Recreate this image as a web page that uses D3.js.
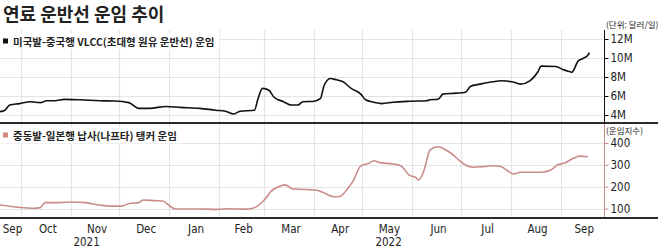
<!DOCTYPE html>
<html><head><meta charset="utf-8">
<script src="https://cdn.jsdelivr.net/npm/d3@7"></script>
<style>
html,body{margin:0;padding:0;background:#fff;}
svg{display:block;}
</style>
</head><body>
<svg id="c" width="658" height="250"></svg>
<script>
// ---- data ----
const title = "연료 운반선 운임 추이";
const legendTop = "미국발-중국행 VLCC(초대형 원유 운반선) 운임";
const legendBottom = "중동발-일본행 납사(나프타) 탱커 운임";
const unitTop = "(단위: 달러/일)";
const unitBottom = "(운임지수)";
const topTicks = [4, 6, 8, 10, 12];
const topTickLabels = ["4M", "6M", "8M", "10M", "12M"];
const bottomTicks = [100, 200, 300, 400];
const monthLabels = ["Sep","Oct","Nov","Dec","Jan","Feb","Mar","Apr","May","Jun","Jul","Aug","Sep"];
const yearLabels = ["2021", "2022"];

const vlccDates = ["2021-09-18","2021-09-21","2021-09-24","2021-09-30","2021-10-07","2021-10-13","2021-10-17","2021-10-22","2021-10-28","2021-11-07","2021-11-19","2021-11-28","2021-12-07","2021-12-13","2021-12-20","2021-12-30","2022-01-08","2022-01-20","2022-01-30","2022-02-05","2022-02-10","2022-02-14","2022-02-23","2022-02-25","2022-02-28","2022-03-04","2022-03-07","2022-03-13","2022-03-18","2022-03-22","2022-03-25","2022-04-01","2022-04-05","2022-04-07","2022-04-11","2022-04-15","2022-04-19","2022-04-24","2022-04-30","2022-05-03","2022-05-08","2022-05-13","2022-05-20","2022-05-31","2022-06-10","2022-06-12","2022-06-17","2022-06-20","2022-06-28","2022-07-04","2022-07-07","2022-07-13","2022-07-21","2022-07-26","2022-08-03","2022-08-07","2022-08-13","2022-08-18","2022-08-20","2022-08-29","2022-09-03","2022-09-07","2022-09-08","2022-09-12","2022-09-15","2022-09-18","2022-09-19"];
const vlccValues = [4.35,4.5,5.05,5.2,5.4,5.3,5.5,5.5,5.65,5.6,5.5,5.47,5.3,4.7,4.7,4.9,4.8,4.7,4.5,4.4,4.1,4.4,4.5,5.6,6.8,6.6,5.9,5.4,5.05,5.05,5.4,5.45,5.75,7.0,7.85,7.7,7.5,6.8,6.2,5.6,5.35,5.2,5.35,5.45,5.5,5.6,5.65,6.2,6.3,6.4,7.0,7.25,7.5,7.6,7.45,7.25,7.6,8.55,9.15,9.1,8.75,8.55,8.5,9.7,9.95,10.3,10.55];

const naphthaDates = ["2021-09-18","2021-09-30","2021-10-09","2021-10-13","2021-10-16","2021-10-25","2021-11-01","2021-11-10","2021-11-19","2021-11-25","2021-12-02","2021-12-08","2021-12-13","2021-12-16","2021-12-23","2021-12-28","2022-01-02","2022-01-05","2022-01-20","2022-01-30","2022-02-08","2022-02-17","2022-02-22","2022-02-27","2022-03-02","2022-03-05","2022-03-11","2022-03-14","2022-03-19","2022-03-23","2022-04-02","2022-04-07","2022-04-13","2022-04-17","2022-04-19","2022-04-22","2022-04-25","2022-04-30","2022-05-05","2022-05-08","2022-05-12","2022-05-20","2022-05-25","2022-05-30","2022-06-03","2022-06-05","2022-06-08","2022-06-12","2022-06-17","2022-06-20","2022-06-25","2022-06-30","2022-07-04","2022-07-09","2022-07-15","2022-07-21","2022-07-26","2022-07-30","2022-08-03","2022-08-07","2022-08-20","2022-08-26","2022-08-30","2022-09-04","2022-09-09","2022-09-13","2022-09-18"];
const naphthaValues = [116,105,101,104,127,127,130,127,116,111,111,124,127,139,136,134,108,98,98,96,99,97,101,124,147,177,203,208,189,188,185,172,154,155,166,192,223,295,307,319,310,304,295,253,243,231,269,368,383,375,353,322,299,289,292,296,292,273,258,266,266,276,299,310,330,340,337];

// ---- layout ----
const svg = d3.select("#c");
const parse = d3.timeParse("%Y-%m-%d");
const W = 658, axisX = 604;
const xStart = new Date(2021, 8, 18), xEnd = new Date(2022, 8, 28);
const x = d3.scaleTime().domain([xStart, xEnd]).range([0, axisX]);
const yTop = d3.scaleLinear().domain([4, 12]).range([115, 39]);
const yBot = d3.scaleLinear().domain([100, 400]).range([208.5, 143]);
const topPanel = [30, 123], botPanel = [124, 218];
const FONT = "'DejaVu Sans Condensed','DejaVu Sans',sans-serif";
const KFONT = "'Noto Sans CJK KR','Noto Sans',sans-serif";
const gridC = "#e4e4e4";
const pink = "#c98c8a";

const months = d3.timeMonth.range(new Date(2021, 9, 1), xEnd);

function grid(yScale, ticks, panel) {
  const g = svg.append("g");
  g.selectAll("line.h").data(ticks).enter().append("line")
    .attr("x1", 0).attr("x2", axisX)
    .attr("y1", d => Math.round(yScale(d)) + 0.5).attr("y2", d => Math.round(yScale(d)) + 0.5)
    .attr("stroke", gridC).attr("stroke-width", 1.2);
  g.selectAll("line.v").data(months).enter().append("line")
    .attr("x1", d => Math.round(x(d)) + 0.5).attr("x2", d => Math.round(x(d)) + 0.5)
    .attr("y1", panel[0]).attr("y2", panel[1])
    .attr("stroke", gridC).attr("stroke-width", 1.2);
}
grid(yTop, topTicks, topPanel);
grid(yBot, bottomTicks, botPanel);

// legends with white boxes
function legend(txt, y, color) {
  const g = svg.append("g");
  const t = g.append("text").attr("x", 13).attr("y", y + 4)
    .attr("font-family", KFONT).attr("font-size", 10.5).attr("font-weight", 700)
    .attr("fill", "#222").text(txt);
  const w = t.node().getComputedTextLength();
  g.insert("rect", "text").attr("x", 0).attr("y", y - 8).attr("width", w + 18).attr("height", 16)
    .attr("fill", "#fff").attr("opacity", 0.9);
  g.append("rect").attr("x", 3).attr("y", y - 3).attr("width", 5).attr("height", 5).attr("fill", color);
}
legend(legendTop, 41.5, "#111");
legend(legendBottom, 135.5, "#d98582");

// lines
const topData = vlccDates.map((d, i) => ({ d: parse(d), v: vlccValues[i] }));
const botData = naphthaDates.map((d, i) => ({ d: parse(d), v: naphthaValues[i] }));
svg.append("path").datum(topData)
  .attr("d", d3.line().x(p => x(p.d)).y(p => yTop(p.v)).curve(d3.curveMonotoneX))
  .attr("fill", "none").attr("stroke", "#111").attr("stroke-width", 1.6);
svg.append("path").datum(botData)
  .attr("d", d3.line().x(p => x(p.d)).y(p => yBot(p.v)).curve(d3.curveMonotoneX))
  .attr("fill", "none").attr("stroke", pink).attr("stroke-width", 1.6);

// right axes
const axTop = svg.append("g").attr("transform", `translate(${axisX + 0.5},0)`)
  .call(d3.axisRight(yTop).tickValues(topTicks).tickFormat((d, i) => topTickLabels[i]).tickSize(4).tickPadding(2));
axTop.select(".domain").attr("d", `M0,${topPanel[0]}V${topPanel[1]}`).attr("stroke", "#111");
const axBot = svg.append("g").attr("transform", `translate(${axisX + 0.5},0)`)
  .call(d3.axisRight(yBot).tickValues(bottomTicks).tickFormat(d3.format("d")).tickSize(4).tickPadding(2));
axBot.select(".domain").attr("d", `M0,${botPanel[0]}V${botPanel[1]}`).attr("stroke", pink);
axBot.selectAll(".tick line").attr("stroke", pink);
[axTop, axBot].forEach(a => a.selectAll("text").attr("font-family", FONT).attr("font-size", 11.5).attr("fill", "#222"));

svg.append("text").attr("x", 606).attr("y", 28).attr("font-family", KFONT).attr("font-size", 8.5).attr("fill", "#222").text(unitTop);
svg.append("text").attr("x", 606).attr("y", 134).attr("font-family", KFONT).attr("font-size", 8.5).attr("fill", "#222").text(unitBottom);

// separators
svg.append("line").attr("x1", 0).attr("x2", W).attr("y1", 123).attr("y2", 123).attr("stroke", "#2a2a2a").attr("stroke-width", 2);
svg.append("line").attr("x1", 0).attr("x2", W).attr("y1", 218).attr("y2", 218).attr("stroke", "#2a2a2a").attr("stroke-width", 2);

// month labels
const bounds = [xStart, ...months, xEnd];
const mData = d3.range(bounds.length - 1).map(i => ({ a: bounds[i], b: bounds[i + 1], label: monthLabels[i] }));
svg.selectAll("text.m").data(mData).enter().append("text")
  .attr("x", d => (x(d.a) + x(d.b)) / 2 + 2).attr("y", 233)
  .attr("text-anchor", "middle").attr("font-family", FONT).attr("font-size", 11.5).attr("fill", "#222")
  .text(d => d.label);
const yb = [[xStart, new Date(2022, 0, 1)], [new Date(2022, 0, 1), xEnd]];
svg.selectAll("text.y").data(yearLabels).enter().append("text")
  .attr("x", (d, i) => (x(yb[i][0]) + x(yb[i][1])) / 2 + 2).attr("y", 246)
  .attr("text-anchor", "middle").attr("font-family", FONT).attr("font-size", 11.5).attr("fill", "#222")
  .text(d => d);

// title
svg.append("text").attr("x", 3).attr("y", 21).attr("font-family", KFONT).attr("font-size", 18)
  .attr("font-weight", 700).attr("fill", "#222").text(title);
</script>
</body></html>
